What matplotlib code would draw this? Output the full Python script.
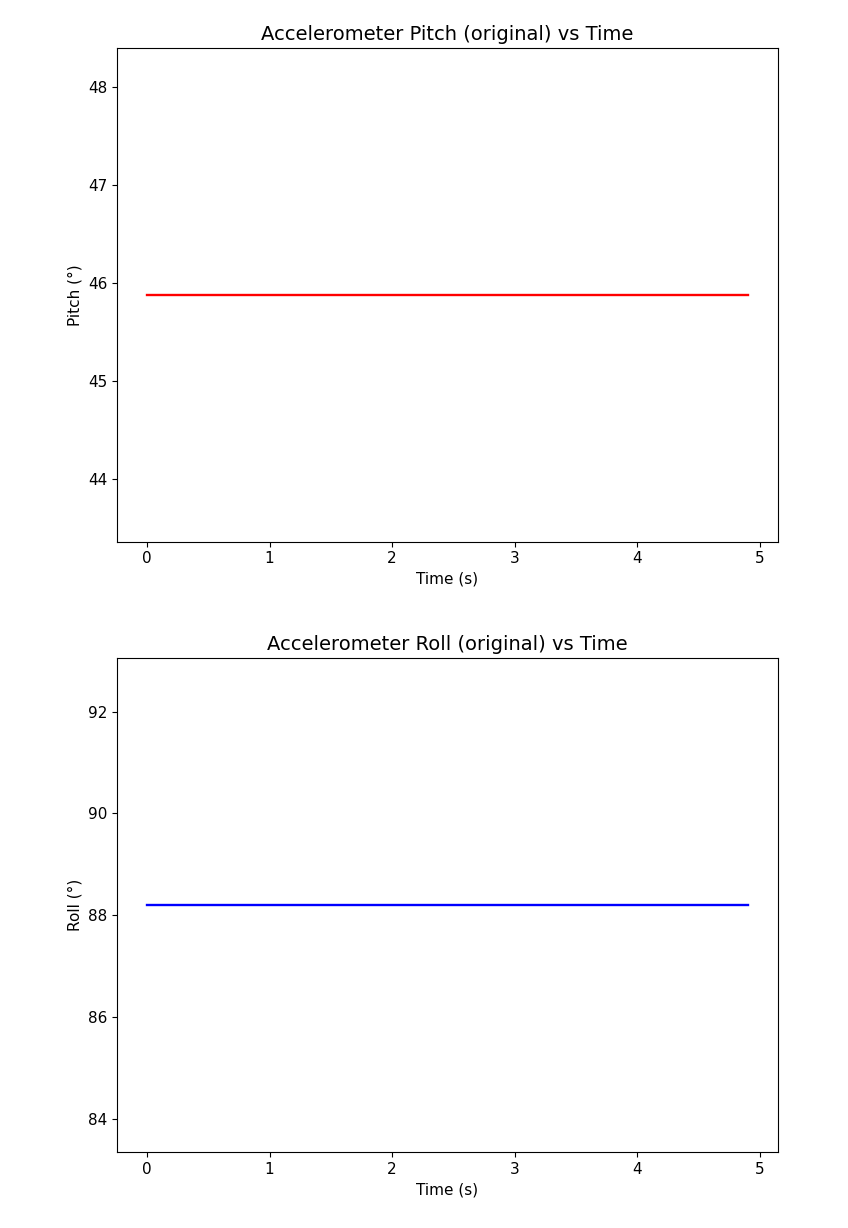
import numpy as np
import matplotlib
matplotlib.use("Agg")
import matplotlib.pyplot as plt

plt.rcParams['font.size'] = 11
plt.rcParams['axes.titlesize'] = 14
plt.rcParams['axes.labelsize'] = 11

time = [0.0, 4.9]
pitch = [45.88, 45.88]
roll = [88.2, 88.2]

fig, (ax1, ax2) = plt.subplots(2, 1, figsize=(8.48, 12.28), dpi=100)
ax1.plot(time, pitch, color='r', lw=1.7)
ax1.set_title("Accelerometer Pitch (original) vs Time")
ax1.set_xlabel("Time (s)")
ax1.set_ylabel("Pitch (°)")
ax2.plot(time, roll, color='b', lw=1.7)
ax2.set_title("Accelerometer Roll (original) vs Time")
ax2.set_xlabel("Time (s)")
ax2.set_ylabel("Roll (°)")
fig.subplots_adjust(left=0.138, right=0.917, top=0.961, bottom=0.062, hspace=0.236)
fig.savefig("out.png")
